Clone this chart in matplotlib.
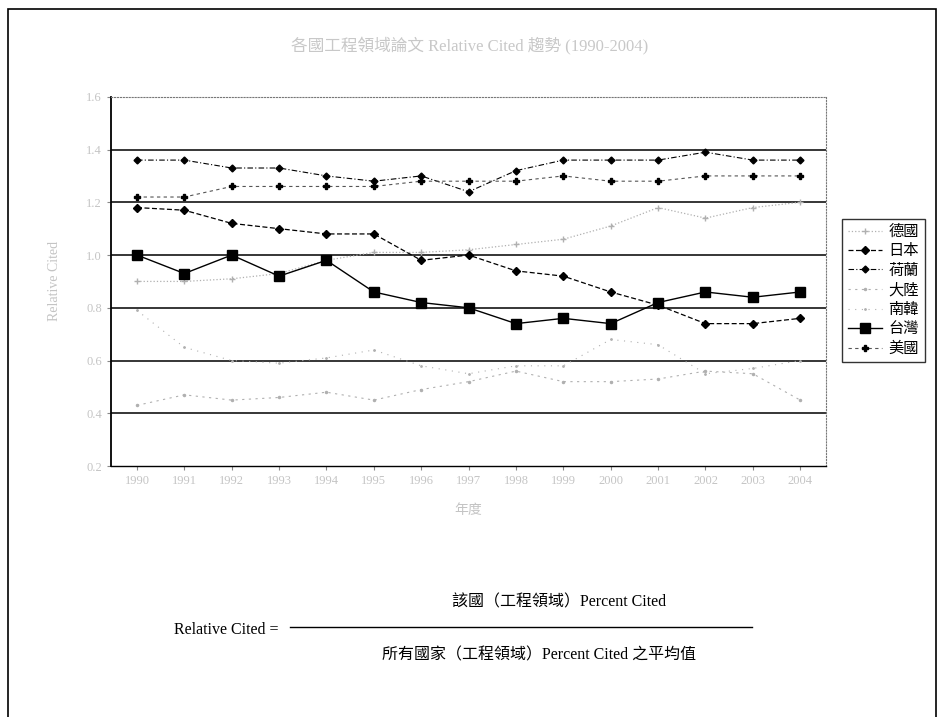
import matplotlib
matplotlib.use("Agg")
import matplotlib.pyplot as plt
from matplotlib.patches import Rectangle
from matplotlib.lines import Line2D

plt.rcParams['font.family'] = ['Liberation Serif', 'Noto Sans CJK TC', 'DejaVu Sans']

# Relative Cited by country, engineering field
years = [str(y) for y in range(1990, 2005)]
germany = [0.90, 0.90, 0.91, 0.93, 0.98, 1.01, 1.01, 1.02, 1.04, 1.06, 1.11, 1.18, 1.14, 1.18, 1.20]
japan = [1.18, 1.17, 1.12, 1.10, 1.08, 1.08, 0.98, 1.00, 0.94, 0.92, 0.86, 0.81, 0.74, 0.74, 0.76]
netherlands = [1.36, 1.36, 1.33, 1.33, 1.30, 1.28, 1.30, 1.24, 1.32, 1.36, 1.36, 1.36, 1.39, 1.36, 1.36]
china = [0.43, 0.47, 0.45, 0.46, 0.48, 0.45, 0.49, 0.52, 0.56, 0.52, 0.52, 0.53, 0.56, 0.55, 0.45]
korea = [0.79, 0.65, 0.60, 0.59, 0.61, 0.64, 0.58, 0.55, 0.58, 0.58, 0.68, 0.66, 0.55, 0.57, 0.60]
taiwan = [1.00, 0.93, 1.00, 0.92, 0.98, 0.86, 0.82, 0.80, 0.74, 0.76, 0.74, 0.82, 0.86, 0.84, 0.86]
usa = [1.22, 1.22, 1.26, 1.26, 1.26, 1.26, 1.28, 1.28, 1.28, 1.30, 1.28, 1.28, 1.30, 1.30, 1.30]

fig = plt.figure(figsize=(9.4, 7.17), dpi=100)
fig.patches.append(Rectangle((0.009, -0.01), 0.987, 0.997, transform=fig.transFigure,
                             fill=False, edgecolor='black', linewidth=1.2))

ax = fig.add_axes([0.118, 0.350, 0.761, 0.515])
x = list(range(len(years)))

faint = '#b0b0b0'
ax.plot(x, germany, linestyle=':', color=faint, linewidth=0.9, marker='+', markersize=4,
        markeredgecolor=faint, label='德國')
ax.plot(x, japan, linestyle=(0, (4, 2)), color='black', linewidth=0.9, marker='D', markersize=4,
        label='日本')
ax.plot(x, netherlands, linestyle=(0, (5, 2, 1, 2)), color='black', linewidth=0.8, marker='D',
        markersize=3.5, label='荷蘭')
ax.plot(x, china, linestyle=(0, (2, 4)), color=faint, linewidth=0.8, marker='.', markersize=3,
        label='大陸')
ax.plot(x, korea, linestyle=(0, (1, 5)), color=faint, linewidth=0.8, marker='.', markersize=2,
        label='南韓')
ax.plot(x, taiwan, linestyle='-', color='black', linewidth=1.0, marker='s', markersize=7,
        label='台灣')
ax.plot(x, usa, linestyle=(0, (3, 3)), color='#555555', linewidth=0.8, marker='P', markersize=4.5,
        markeredgecolor='black', markerfacecolor='black', label='美國')

ax.set_xlim(-0.55, 14.55)
ax.set_ylim(0.2, 1.6)
ax.set_yticks([0.2, 0.4, 0.6, 0.8, 1.0, 1.2, 1.4, 1.6])
ax.set_yticklabels(['0.2', '0.4', '0.6', '0.8', '1.0', '1.2', '1.4', '1.6'], color='#c4c4c4', fontsize=9)
ax.set_xticks(x)
ax.set_xticklabels(years, color='#c4c4c4', fontsize=9)
for v in [0.4, 0.6, 0.8, 1.0, 1.2, 1.4]:
    ax.axhline(v, color='black', linewidth=1.1, zorder=0)
ax.tick_params(axis='both', length=3, color='#888888')

ax.spines['left'].set_linewidth(1.3)
ax.spines['bottom'].set_linewidth(1.0)
for side in ['top', 'right']:
    ax.spines[side].set_linestyle(':')
    ax.spines[side].set_color('#777777')

ax.set_xlabel('年度', color='#c4c4c4', fontsize=10, labelpad=12)
ax.set_ylabel('Relative Cited', color='#c4c4c4', fontsize=10, labelpad=18)
fig.text(0.5, 0.935, '各國工程領域論文 Relative Cited 趨勢 (1990-2004)', ha='center', va='center',
         color='#c8c8c8', fontsize=12)

leg = ax.legend(loc='center left', bbox_to_anchor=(0.888, 0.595), bbox_transform=fig.transFigure,
                frameon=True, fancybox=False, edgecolor='black', fontsize=11, handlelength=2.2,
                borderpad=0.4, labelspacing=0.35, handletextpad=0.4)
leg.get_frame().set_linewidth(1.0)

# formula below the chart
fig.text(0.595, 0.160, '該國（工程領域）Percent Cited', ha='center', va='center', fontsize=11.5)
fig.text(0.185, 0.121, 'Relative Cited =', ha='left', va='center', fontsize=11.5)
fig.add_artist(Line2D([0.308, 0.800], [0.125, 0.125], transform=fig.transFigure,
                      color='black', linewidth=1.0))
fig.text(0.573, 0.086, '所有國家（工程領域）Percent Cited 之平均值', ha='center', va='center', fontsize=11.5)

fig.savefig('out.png', dpi=100)
